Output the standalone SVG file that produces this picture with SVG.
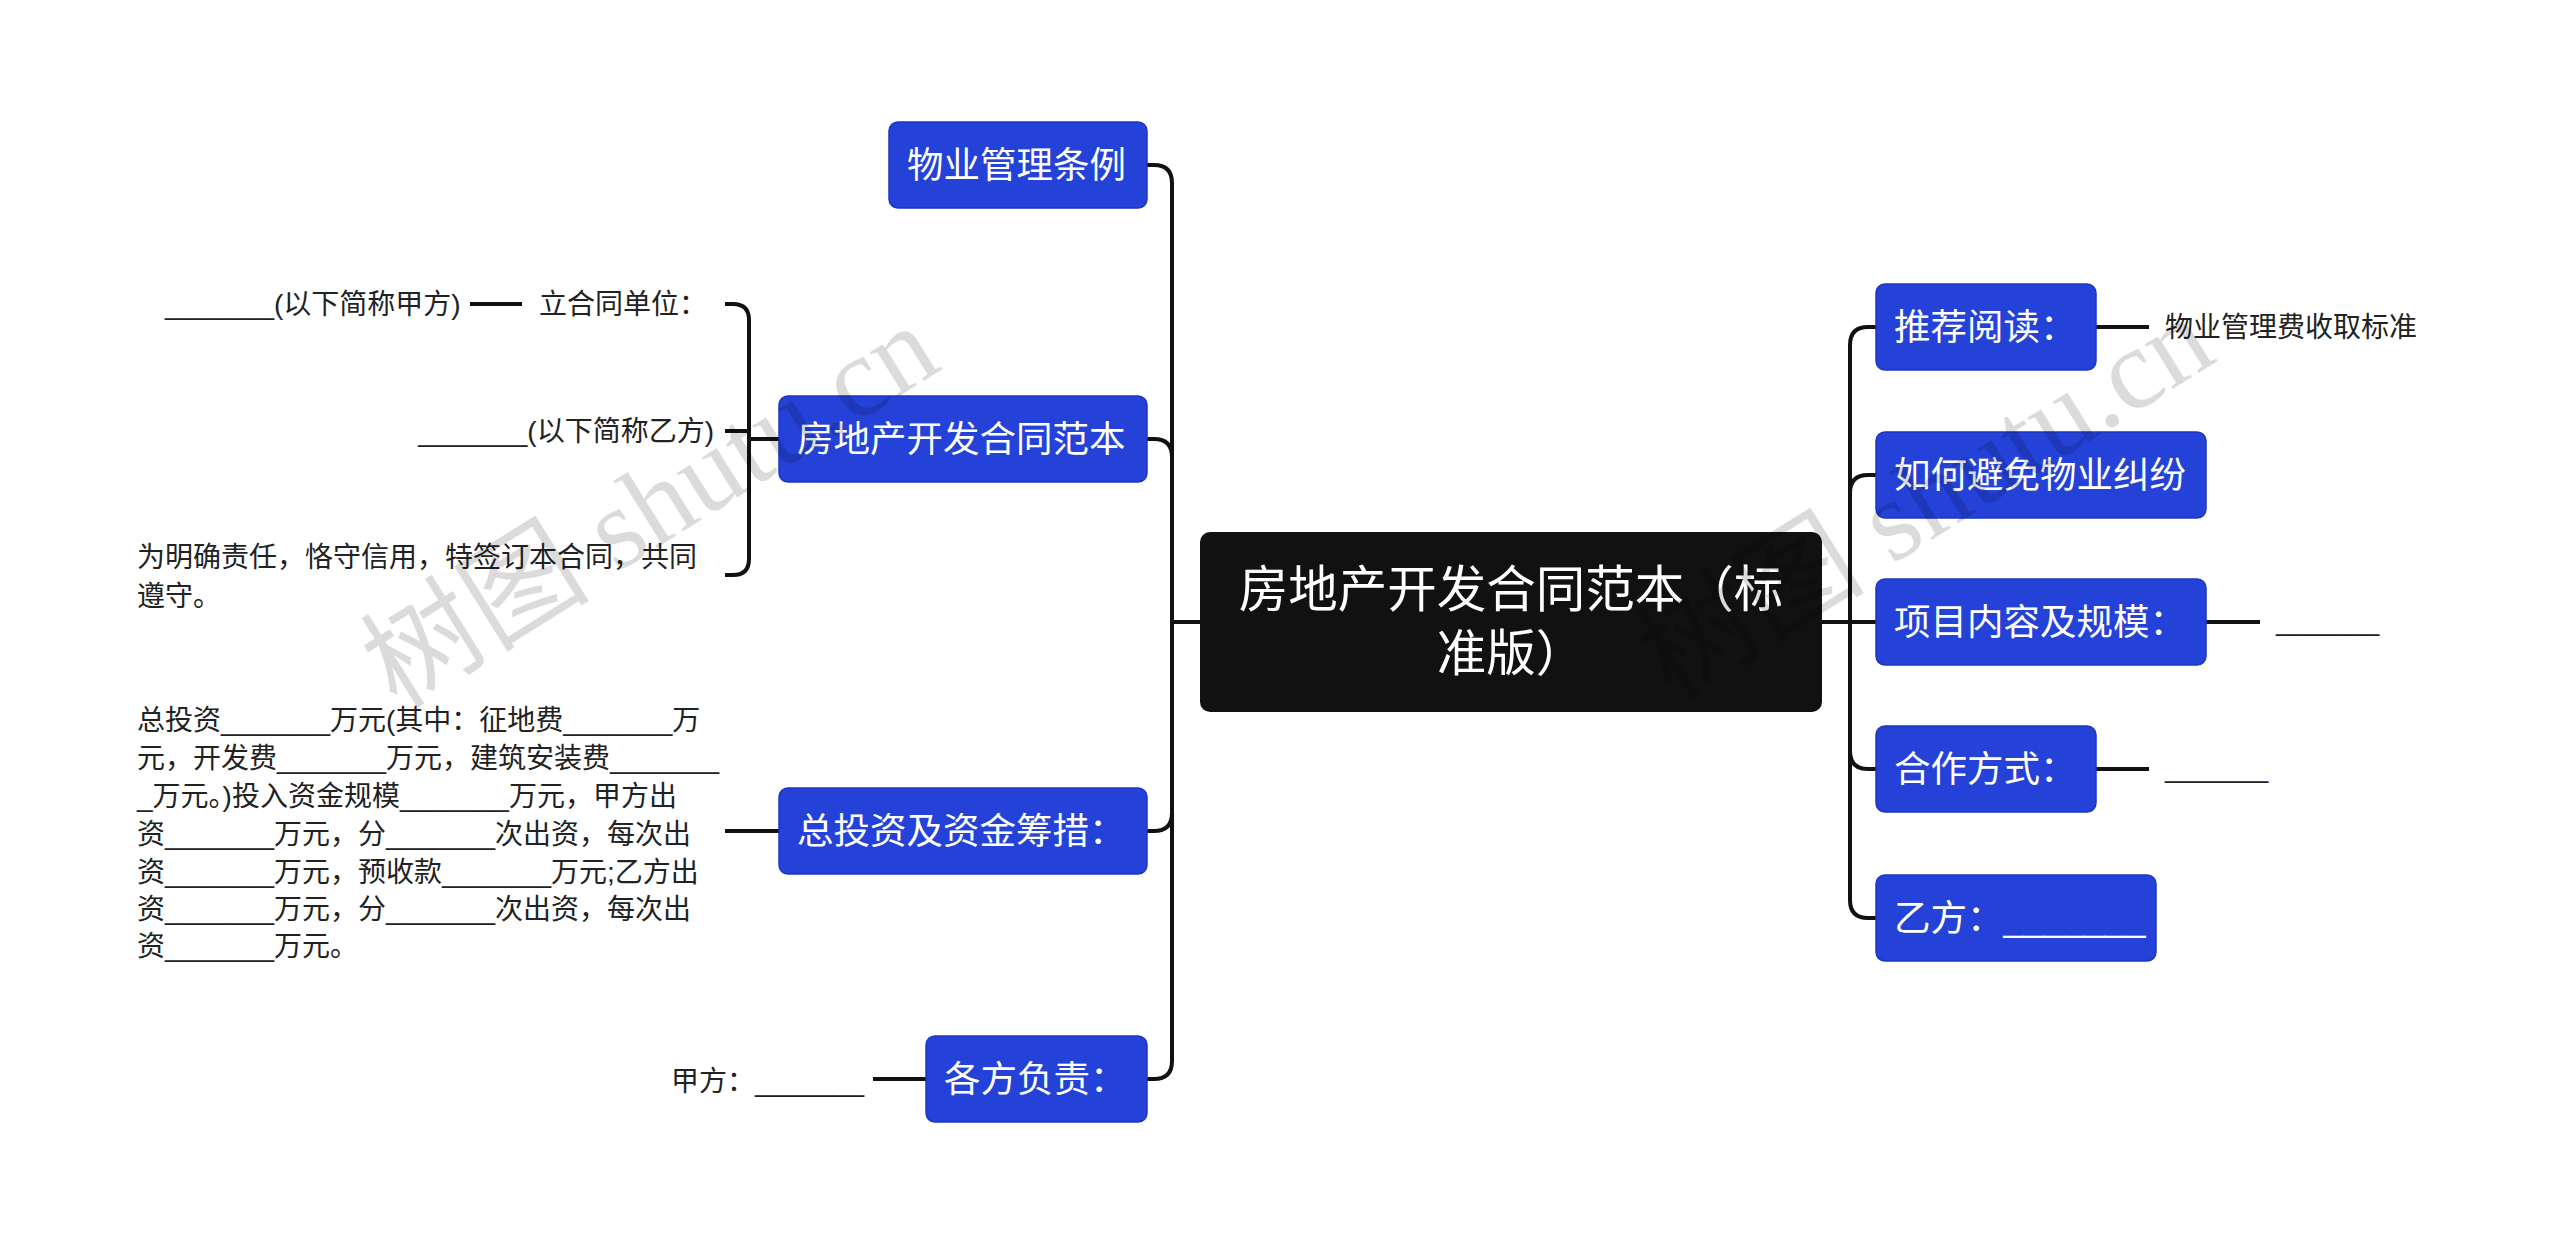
<svg xmlns="http://www.w3.org/2000/svg" width="2560" height="1245" viewBox="0 0 2560 1245">
<style>
.bg{fill:#ffffff}
.node{fill:#2542d8;stroke:#1d36c4;stroke-width:1.5}
.root{fill:#111111}
.nt{font-family:"Liberation Sans","Noto Sans CJK SC",sans-serif;font-size:36.5px;fill:#ffffff}
.rt{font-family:"Liberation Sans","Noto Sans CJK SC",sans-serif;font-size:49.5px;fill:#ffffff}
.lt{font-family:"Liberation Sans","Noto Sans CJK SC",sans-serif;font-size:28px;fill:#222222}
.bl{font-family:"Liberation Sans","Noto Sans CJK SC",sans-serif;font-size:26.5px;fill:#222222}
.ln{fill:none;stroke:#111111;stroke-width:4;stroke-linecap:butt;stroke-linejoin:round}
.wm{font-family:"Liberation Serif","Noto Sans CJK SC",serif;font-size:115px;fill:#000000;fill-opacity:0.14}
</style>
<rect class="bg" x="0" y="0" width="2560" height="1245"/>

<g id="connectors">
  <path class="ln" d="M1200,622 H1172"/>
  <path class="ln" d="M1172,622 V183 Q1172,165 1154,165 H1147"/>
  <path class="ln" d="M1172,622 V457 Q1172,439 1154,439 H1147"/>
  <path class="ln" d="M1172,622 V813 Q1172,831 1154,831 H1147"/>
  <path class="ln" d="M1172,622 V1061 Q1172,1079 1154,1079 H1147"/>
  <path class="ln" d="M1822,622 H1850"/>
  <path class="ln" d="M1850,622 V345 Q1850,327 1868,327 H1876"/>
  <path class="ln" d="M1850,622 V493 Q1850,475 1868,475 H1876"/>
  <path class="ln" d="M1850,622 H1876"/>
  <path class="ln" d="M1850,622 V751 Q1850,769 1868,769 H1876"/>
  <path class="ln" d="M1850,622 V900 Q1850,918 1868,918 H1876"/>
  <path class="ln" d="M779,439 H749"/>
  <path class="ln" d="M725,304 H733 Q749,304 749,320 V559 Q749,575 733,575 H725"/>
  <path class="ln" d="M749,431 H725"/>
  <path class="ln" d="M522,304 H470"/>
  <path class="ln" d="M779,831 H725"/>
  <path class="ln" d="M926,1079 H873"/>
  <path class="ln" d="M2096,327 H2149"/>
  <path class="ln" d="M2206,622 H2260"/>
  <path class="ln" d="M2096,769 H2149"/>
</g>

<g id="root">
  <rect class="root" x="1200" y="532" width="622" height="180" rx="10"/>
  <text class="rt" x="1511" y="607" text-anchor="middle">房地产开发合同范本（标</text>
  <text class="rt" x="1511" y="671" text-anchor="middle">准版）</text>
</g>

<g id="n-wuye">
  <rect class="node" x="889" y="122" width="258" height="86" rx="9"/>
  <text class="nt" x="907" y="178">物业管理条例</text>
</g>
<g id="n-fangdichan">
  <rect class="node" x="779" y="396" width="368" height="86" rx="9"/>
  <text class="nt" x="797" y="452">房地产开发合同范本</text>
</g>
<g id="n-zongtouzi">
  <rect class="node" x="779" y="788" width="368" height="86" rx="9"/>
  <text class="nt" x="797" y="844">总投资及资金筹措：</text>
</g>
<g id="n-gefang">
  <rect class="node" x="926" y="1036" width="221" height="86" rx="9"/>
  <text class="nt" x="944" y="1092">各方负责：</text>
</g>

<g id="n-tuijian">
  <rect class="node" x="1876" y="284" width="220" height="86" rx="9"/>
  <text class="nt" x="1894" y="340">推荐阅读：</text>
</g>
<g id="n-ruhe">
  <rect class="node" x="1876" y="432" width="330" height="86" rx="9"/>
  <text class="nt" x="1894" y="488">如何避免物业纠纷</text>
</g>
<g id="n-xiangmu">
  <rect class="node" x="1876" y="579" width="330" height="86" rx="9"/>
  <text class="nt" x="1894" y="635">项目内容及规模：</text>
</g>
<g id="n-hezuo">
  <rect class="node" x="1876" y="726" width="220" height="86" rx="9"/>
  <text class="nt" x="1894" y="782">合作方式：</text>
</g>
<g id="n-yifang">
  <rect class="node" x="1876" y="875" width="280" height="86" rx="9"/>
  <text class="nt" x="1894" y="931">乙方：_______</text>
</g>

<g id="n-lihetong">
  <text class="lt" x="539" y="314">立合同单位：</text>
</g>
<g id="n-jiafang-short">
  <text class="lt" x="165" y="314">_______(以下简称甲方)</text>
</g>
<g id="n-yifang-short">
  <text class="lt" x="714" y="441" text-anchor="end">_______(以下简称乙方)</text>
</g>
<g id="n-mingque">
  <text class="lt" x="137" y="567">为明确责任，恪守信用，特签订本合同，共同</text>
  <text class="lt" x="137" y="606">遵守。</text>
</g>
<g id="n-touzi-detail">
  <text class="lt" x="137" y="730">总投资_______万元(其中：征地费_______万</text>
  <text class="lt" x="137" y="768">元，开发费_______万元，建筑安装费_______</text>
  <text class="lt" x="137" y="806">_万元。)投入资金规模_______万元，甲方出</text>
  <text class="lt" x="137" y="844">资_______万元，分_______次出资，每次出</text>
  <text class="lt" x="137" y="882">资_______万元，预收款_______万元;乙方出</text>
  <text class="lt" x="137" y="919">资_______万元，分_______次出资，每次出</text>
  <text class="lt" x="137" y="956">资_______万元。</text>
</g>
<g id="n-jiafang">
  <text class="lt" x="671" y="1091">甲方：_______</text>
</g>
<g id="n-wuyefei">
  <text class="lt" x="2165" y="337">物业管理费收取标准</text>
</g>
<g id="n-xiangmu-blank">
  <text class="bl" x="2276" y="631">_______</text>
</g>
<g id="n-hezuo-blank">
  <text class="bl" x="2165" y="778">_______</text>
</g>

<g id="watermarks">
  <text class="wm" x="650" y="545" text-anchor="middle" transform="rotate(-32 650 506)">树图 shutu.cn</text>
  <text class="wm" x="1925" y="537" text-anchor="middle" transform="rotate(-32 1925 498)">树图 shutu.cn</text>
</g>
</svg>
